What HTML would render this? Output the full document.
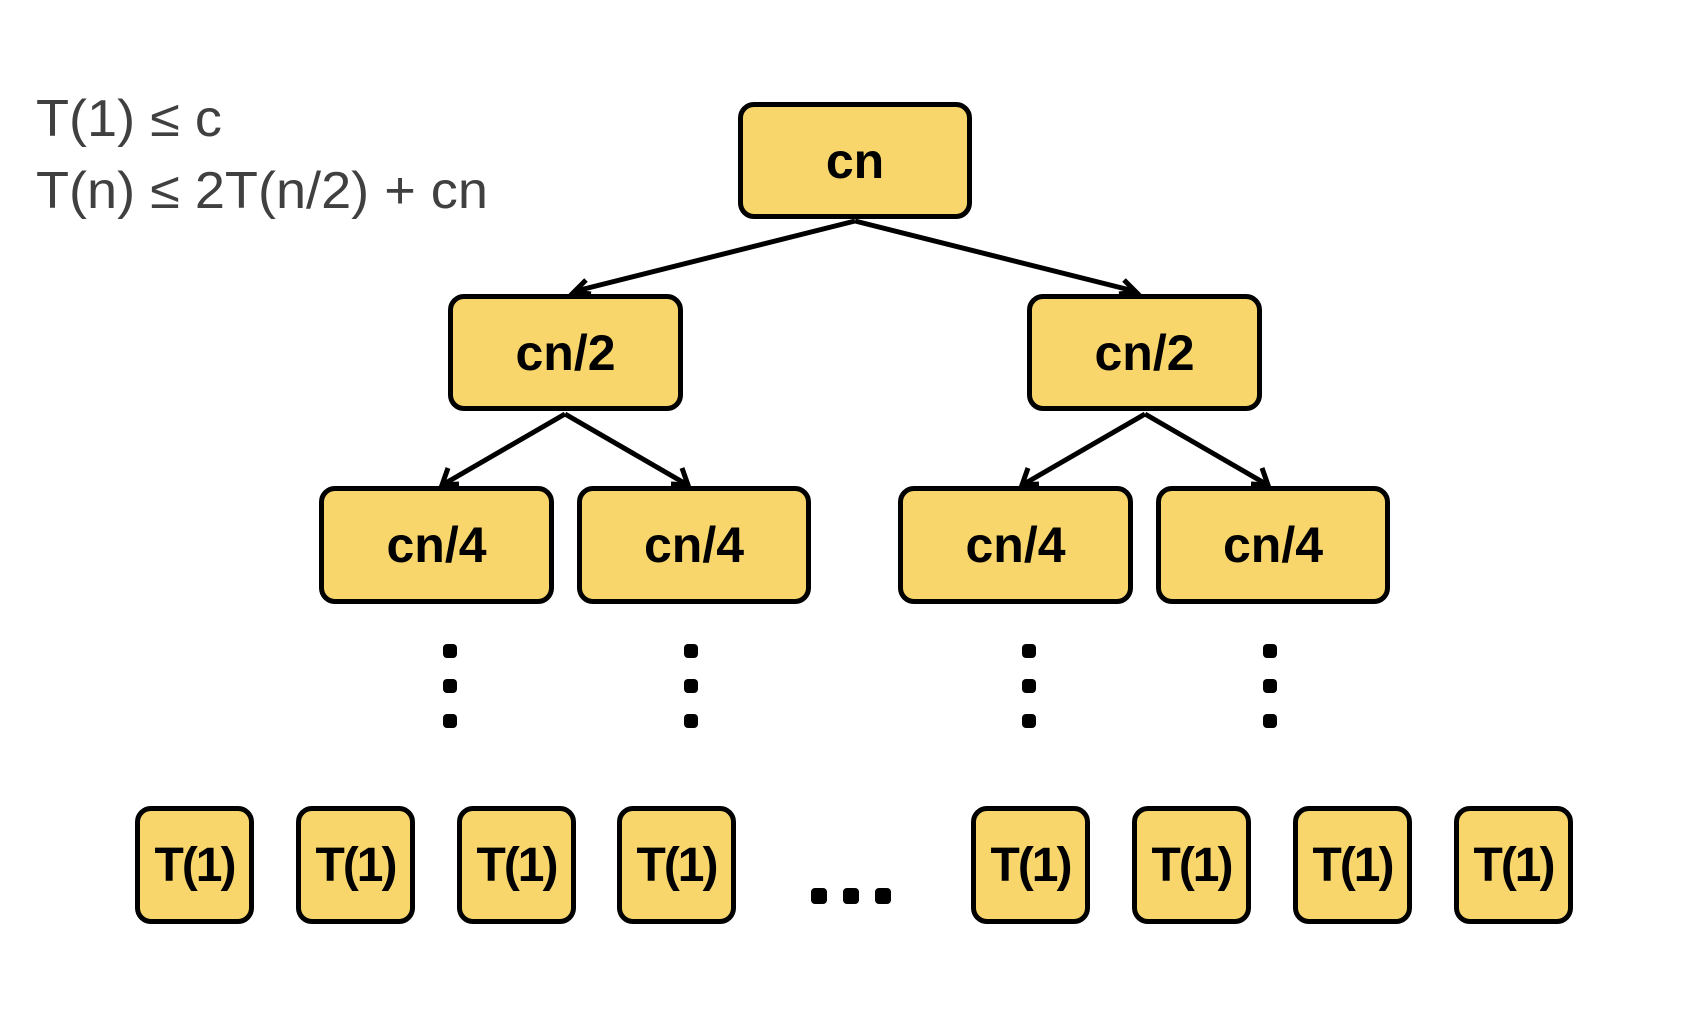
<!DOCTYPE html>
<html><head><style>
body{margin:0;width:1682px;height:1016px;background:#fff;position:relative;overflow:hidden;font-family:"Liberation Sans",sans-serif}
.b{position:absolute;box-sizing:border-box;background:#f8d66b;border:5px solid #000;border-radius:16px;display:flex;align-items:center;justify-content:center;font-weight:bold;font-size:50px;color:#000}
.t{font-size:48px;letter-spacing:-2px}
.eq{position:absolute;left:36px;font-size:52px;color:#404040;line-height:1;transform-origin:0 0;transform:scaleX(1.04)}
.d{position:absolute;width:14px;height:14px;border-radius:4px;background:#000}
</style></head><body>
<div class="eq" style="top:93px">T(1) ≤ c</div>
<div class="eq" style="top:165px">T(n) ≤ 2T(n/2) + cn</div>
<svg width="1682" height="1016" style="position:absolute;left:0;top:0">
<g stroke="#000" stroke-width="5" fill="none">
<line x1="855" y1="221" x2="576" y2="291"/><line x1="855" y1="221" x2="1134" y2="291"/>
<line x1="565" y1="414" x2="444" y2="484"/><line x1="565" y1="414" x2="686" y2="484"/>
<line x1="1145" y1="414" x2="1024" y2="484"/><line x1="1145" y1="414" x2="1266" y2="484"/>
<polyline points="586,280 574,292 591,294"/><polyline points="1124,280 1136,292 1119,294"/>
<polyline points="448,468 442,485 459,484"/><polyline points="682,468 688,485 671,484"/>
<polyline points="1028,468 1022,485 1039,484"/><polyline points="1262,468 1268,485 1251,484"/>
</g></svg>
<div class="b" style="left:738px;top:102px;width:234px;height:117px">cn</div>
<div class="b" style="left:448px;top:294px;width:235px;height:117px">cn/2</div>
<div class="b" style="left:1027px;top:294px;width:235px;height:117px">cn/2</div>
<div class="b" style="left:319px;top:486px;width:235px;height:118px">cn/4</div>
<div class="b" style="left:577px;top:486px;width:234px;height:118px">cn/4</div>
<div class="b" style="left:898px;top:486px;width:235px;height:118px">cn/4</div>
<div class="b" style="left:1156px;top:486px;width:234px;height:118px">cn/4</div>
<div class="b t" style="left:135px;top:806px;width:119px;height:118px">T(1)</div>
<div class="b t" style="left:296px;top:806px;width:119px;height:118px">T(1)</div>
<div class="b t" style="left:457px;top:806px;width:119px;height:118px">T(1)</div>
<div class="b t" style="left:617px;top:806px;width:119px;height:118px">T(1)</div>
<div class="b t" style="left:971px;top:806px;width:119px;height:118px">T(1)</div>
<div class="b t" style="left:1132px;top:806px;width:119px;height:118px">T(1)</div>
<div class="b t" style="left:1293px;top:806px;width:119px;height:118px">T(1)</div>
<div class="b t" style="left:1454px;top:806px;width:119px;height:118px">T(1)</div>
<div class="d" style="left:443px;top:644px"></div><div class="d" style="left:443px;top:679px"></div><div class="d" style="left:443px;top:714px"></div>
<div class="d" style="left:684px;top:644px"></div><div class="d" style="left:684px;top:679px"></div><div class="d" style="left:684px;top:714px"></div>
<div class="d" style="left:1022px;top:644px"></div><div class="d" style="left:1022px;top:679px"></div><div class="d" style="left:1022px;top:714px"></div>
<div class="d" style="left:1263px;top:644px"></div><div class="d" style="left:1263px;top:679px"></div><div class="d" style="left:1263px;top:714px"></div>
<div class="d" style="left:811px;top:888px;width:16px;height:16px"></div><div class="d" style="left:843px;top:888px;width:16px;height:16px"></div><div class="d" style="left:875px;top:888px;width:16px;height:16px"></div>
</body></html>
